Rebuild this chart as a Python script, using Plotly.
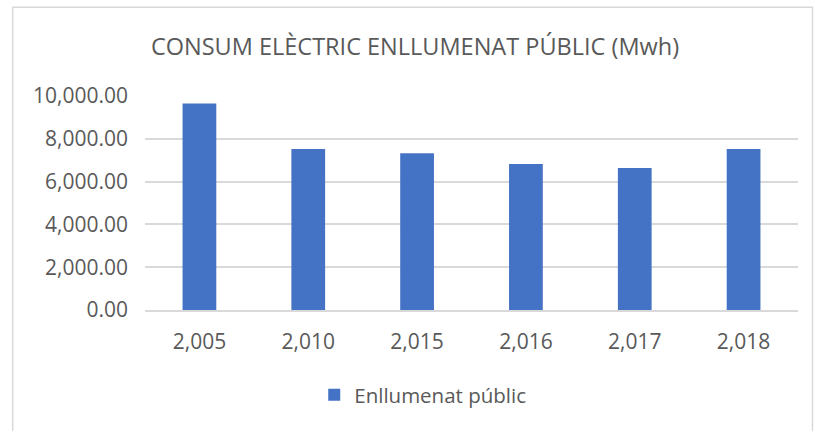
import plotly.graph_objects as go

years = ["2005", "2010", "2015", "2016", "2017", "2018"]
year_labels = ["2,005", "2,010", "2,015", "2,016", "2,017", "2,018"]
consum = [9650, 7520, 7320, 6820, 6640, 7520]
y_ticks = [0, 2000, 4000, 6000, 8000, 10000]
y_tick_labels = ["0.00", "2,000.00", "4,000.00", "6,000.00", "8,000.00", "10,000.00"]

W, H = 815, 431
L, R, T, B = 144.5, 16.5, 95.5, 121
pw, ph = W - L - R, H - T - B

def px(x):
    return (x - L) / pw

def py(y):
    return (H - B - y) / ph

font = "Open Sans"
grey = "#595959"

fig = go.Figure()
fig.add_trace(go.Bar(
    x=years, y=consum, name="Enllumenat públic",
    marker=dict(color="#4472C4", line=dict(width=0)),
))

fig.update_layout(
    width=W, height=H,
    margin=dict(l=L, r=R, t=T, b=B, autoexpand=False),
    paper_bgcolor="white", plot_bgcolor="white",
    bargap=0.69,
    title=dict(text="CONSUM ELÈCTRIC ENLLUMENAT PÚBLIC (Mwh)",
               x=415 / W, xref="container", xanchor="center",
               y=1 - 47 / H, yref="container", yanchor="middle",
               font=dict(family=font, size=23.5, color=grey)),
    showlegend=True,
    legend=dict(orientation="h", x=px(314), y=py(395), xanchor="left", yanchor="middle",
                font=dict(family=font, size=20.5, color=grey),
                itemwidth=30, bgcolor="rgba(0,0,0,0)"),
    font=dict(family=font, color=grey),
)
fig.update_xaxes(
    type="category", tickvals=years, ticktext=year_labels,
    tickfont=dict(family=font, size=21, color=grey),
    showgrid=False, showline=True, linecolor="#d9d9d9", linewidth=1.5,
    ticks="", ticklabelstandoff=12,
)
fig.update_yaxes(
    range=[0, 10000], tickvals=y_ticks, ticktext=y_tick_labels,
    tickfont=dict(family=font, size=21, color=grey),
    showgrid=True, gridcolor="#d9d9d9", gridwidth=1.5,
    zeroline=False, showline=False, ticks="", ticklabelstandoff=16,
)
fig.add_shape(type="rect", xref="paper", yref="paper",
              x0=px(12), x1=px(813), y0=py(440), y1=py(6.5),
              line=dict(color="#d9d9d9", width=1.5), fillcolor="rgba(0,0,0,0)", layer="below")

fig.write_html("out.html", config={"displayModeBar": False},
               post_script="document.body.style.margin='0';")
